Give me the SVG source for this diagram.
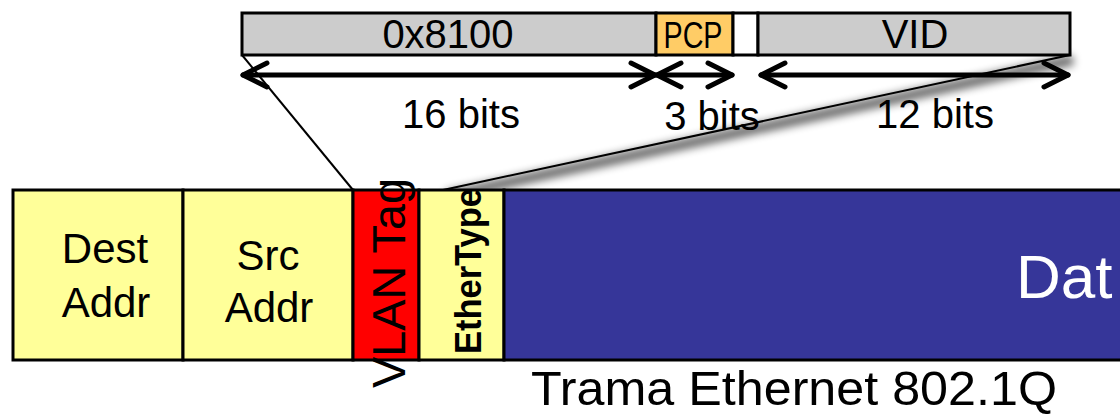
<svg xmlns="http://www.w3.org/2000/svg" width="1120" height="417" viewBox="0 0 1120 417">
  <defs>
    <style>
      .cell { stroke: #000; stroke-width: 3; }
      .lbl { font-family: "Liberation Sans", "DejaVu Sans", sans-serif; fill: #000; text-anchor: middle; }
      .dim { fill: none; stroke: #000; stroke-width: 5; stroke-linecap: round; stroke-linejoin: round; }
      .proj { fill: none; stroke: #000; stroke-width: 2; }
    </style>
    <marker id="chev" viewBox="-30 -15 34 30" refX="0" refY="0" markerWidth="34" markerHeight="30" markerUnits="userSpaceOnUse" orient="auto-start-reverse">
      <path d="M-24,-12 L0,0 L-24,12" fill="none" stroke="#000" stroke-width="5" stroke-linecap="round" stroke-linejoin="round"/>
    </marker>
    <filter id="soft" x="-10%" y="-50%" width="120%" height="200%">
      <feGaussianBlur stdDeviation="4"/>
    </filter>
  </defs>

  <!-- projection lines from the tag fields down to the frame -->
  <g id="connectors">
    <path d="M1073,60 L446,196" stroke="#000" stroke-width="10" opacity="0.6" fill="none" filter="url(#soft)"/>
    <line class="proj" x1="242" y1="55" x2="353" y2="190"/>
    <line class="proj" x1="1070" y1="55" x2="443" y2="190"/>
  </g>

  <!-- 802.1Q tag fields -->
  <g id="tag-tpid">
    <rect class="cell" x="242" y="13" width="414" height="42" fill="#cccccc"/>
    <text class="lbl" x="448" y="48" font-size="40">0x8100</text>
  </g>
  <g id="tag-pcp">
    <rect class="cell" x="656" y="13" width="77" height="42" fill="#ffcc66"/>
    <text class="lbl" x="693" y="48" font-size="36" textLength="59" lengthAdjust="spacingAndGlyphs">PCP</text>
  </g>
  <g id="tag-dei">
    <rect class="cell" x="733" y="13" width="25" height="42" fill="#ffffff"/>
  </g>
  <g id="tag-vid">
    <rect class="cell" x="758" y="13" width="312" height="42" fill="#cccccc"/>
    <text class="lbl" x="915" y="48" font-size="40">VID</text>
  </g>

  <!-- field widths -->
  <g id="widths">
    <line class="dim" x1="243" y1="75" x2="655" y2="75" marker-start="url(#chev)" marker-end="url(#chev)"/>
    <line class="dim" x1="657" y1="75" x2="732" y2="75" marker-start="url(#chev)" marker-end="url(#chev)"/>
    <line class="dim" x1="761" y1="75" x2="1068" y2="75" marker-start="url(#chev)" marker-end="url(#chev)"/>
    <text class="lbl" x="461" y="128" font-size="40">16 bits</text>
    <text class="lbl" x="712" y="130" font-size="40">3 bits</text>
    <text class="lbl" x="935" y="128" font-size="40">12 bits</text>
  </g>

  <!-- Ethernet frame -->
  <g id="dest-addr">
    <rect class="cell" x="13" y="190" width="170" height="170" fill="#ffff99"/>
    <text class="lbl" x="105" y="263" font-size="42">Dest</text>
    <text class="lbl" x="106" y="317" font-size="42">Addr</text>
  </g>
  <g id="src-addr">
    <rect class="cell" x="183" y="190" width="170" height="170" fill="#ffff99"/>
    <text class="lbl" x="268" y="270" font-size="42">Src</text>
    <text class="lbl" x="269" y="322" font-size="42">Addr</text>
  </g>
  <g id="vlan-tag">
    <rect class="cell" x="353" y="190" width="66" height="170" fill="#ff0000"/>
    <text class="lbl" transform="translate(405,283) rotate(-90)" font-size="46" textLength="210" lengthAdjust="spacingAndGlyphs">VLAN Tag</text>
  </g>
  <g id="ethertype">
    <rect class="cell" x="419" y="190" width="85" height="170" fill="#ffff99"/>
    <text class="lbl" transform="translate(481,271) rotate(-90)" font-size="36" font-weight="bold" textLength="166" lengthAdjust="spacingAndGlyphs">EtherType</text>
  </g>
  <g id="data">
    <rect class="cell" x="504" y="190" width="630" height="170" fill="#363699"/>
    <text x="1016" y="298" font-family="'Liberation Sans', 'DejaVu Sans', sans-serif" font-size="62" fill="#ffffff">Dat</text>
  </g>

  <text id="caption" class="lbl" x="794" y="405" font-size="49" textLength="526" lengthAdjust="spacingAndGlyphs">Trama Ethernet 802.1Q</text>
</svg>
